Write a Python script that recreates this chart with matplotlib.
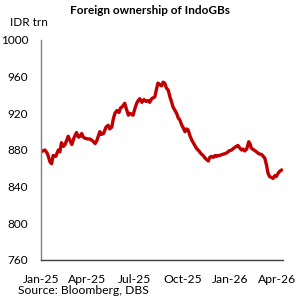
import matplotlib
matplotlib.use("Agg")
import matplotlib.pyplot as plt
import pandas as pd

dates = ["2025-01-01","2025-01-05","2025-01-09","2025-01-14","2025-01-19","2025-01-22","2025-01-25","2025-01-30",
         "2025-02-04","2025-02-07","2025-02-10","2025-02-14","2025-02-17","2025-02-23","2025-02-26","2025-03-02",
         "2025-03-06","2025-03-11","2025-03-15","2025-03-18","2025-03-21","2025-03-24","2025-03-27","2025-04-02",
         "2025-04-06","2025-04-11","2025-04-16","2025-04-19","2025-04-25","2025-04-28","2025-05-02","2025-05-07",
         "2025-05-11","2025-05-14","2025-05-18","2025-05-21","2025-05-24","2025-05-28","2025-06-01","2025-06-04",
         "2025-06-07","2025-06-12","2025-06-15","2025-06-19","2025-06-22","2025-06-28","2025-07-02","2025-07-05",
         "2025-07-08","2025-07-11","2025-07-15","2025-07-19","2025-07-23","2025-07-27","2025-07-30","2025-08-03",
         "2025-08-09","2025-08-12","2025-08-15","2025-08-19","2025-08-22","2025-08-25","2025-08-28","2025-08-31",
         "2025-09-04","2025-09-07","2025-09-10","2025-09-13","2025-09-17","2025-09-20","2025-09-23","2025-09-26",
         "2025-09-30","2025-10-03","2025-10-06","2025-10-09","2025-10-12","2025-10-16","2025-10-19","2025-10-23",
         "2025-10-28","2025-11-02","2025-11-06","2025-11-10","2025-11-14","2025-11-20","2025-11-23","2025-11-26",
         "2025-11-30","2025-12-03","2025-12-06","2025-12-09","2025-12-12","2025-12-16","2025-12-22","2025-12-26",
         "2025-12-30","2026-01-04","2026-01-08","2026-01-13","2026-01-16","2026-01-20","2026-01-23","2026-01-26",
         "2026-01-29","2026-02-02","2026-02-06","2026-02-09","2026-02-11","2026-02-16","2026-02-21","2026-02-25",
         "2026-03-03","2026-03-06","2026-03-09","2026-03-12","2026-03-15","2026-03-18","2026-03-22","2026-03-25",
         "2026-03-28","2026-03-31","2026-04-04","2026-04-07","2026-04-10"]
values = [878,879,880,876,867,865,874,873,
          880,878,888,884,886,895,891,886,
          893,899,894,895,898,894,893,892,
          892,890,887,890,900,897,898,905,
          907,903,905,914,920,923,921,926,
          927,931,925,918,920,918,926,931,
          934,936,932,935,933,934,932,936,
          938,946,953,951,950,954,953,948,
          945,938,933,927,923,920,915,913,
          907,904,900,903,902,895,891,887,
          882,879,876,874,871,868,872,873,
          872,874,873,874,874,875,876,877,
          879,880,882,884,885,882,880,881,
          879,881,889,886,882,880,878,876,
          875,873,871,864,855,851,850,849,
          852,851,855,857,858]

tick_dates = ["2025-01-01","2025-04-01","2025-07-01","2025-10-01","2026-01-01","2026-04-01"]
tick_labels = ["Jan-25","Apr-25","Jul-25","Oct-25","Jan-26","Apr-26"]
y_ticks = [760, 800, 840, 880, 920, 960, 1000]

plt.rcParams['font.family'] = ['Lato', 'DejaVu Sans']

fig = plt.figure(figsize=(3.02, 3.02), dpi=100)
ax = fig.add_axes([40.7/302, 42/302, (283-40.7)/302, 220/302])

x = pd.to_datetime(dates)
ax.plot(x, values, color="#C00000", lw=2.4, solid_joinstyle="round")

ax.set_ylim(760, 1000)
ax.set_yticks(y_ticks)
ax.set_yticklabels([str(v) for v in y_ticks], fontsize=8.5)
ax.set_xlim(pd.Timestamp("2025-01-01"), pd.Timestamp("2026-04-13"))
ax.set_xticks(pd.to_datetime(tick_dates))
ax.set_xticklabels(tick_labels, fontsize=8.7)
ax.tick_params(axis="both", length=0)
ax.tick_params(axis="x", pad=10)
ax.tick_params(axis="y", pad=9)

for s in ["top", "right"]:
    ax.spines[s].set_visible(False)
ax.spines["left"].set_color("#808080")
ax.spines["bottom"].set_color("#404040")
ax.spines["left"].set_linewidth(1.0)
ax.spines["bottom"].set_linewidth(1.0)

fig.text(150/302, 1 - 10/302, "Foreign ownership of IndoGBs", ha="center", va="center",
         fontsize=8.5, fontweight="bold")
fig.text(10/302, 1 - 23/302, "IDR trn", ha="left", va="center", fontsize=8.5)
fig.text(18/302, 1 - 291/302, "Source: Bloomberg, DBS", ha="left", va="center", fontsize=8.7)

fig.savefig("out.png", dpi=100)
